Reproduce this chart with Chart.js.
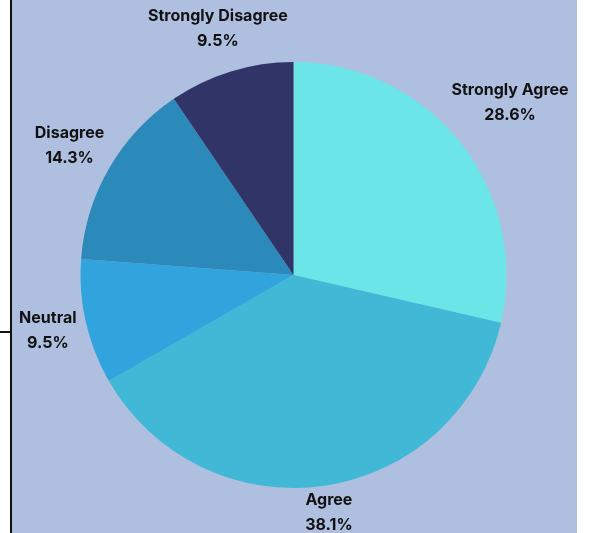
<!DOCTYPE html>
<html>
<head>
<meta charset="utf-8">
<script src="https://cdn.jsdelivr.net/npm/chart.js@4/dist/chart.umd.min.js"></script>
<style>
  html, body { margin: 0; padding: 0; background: #ffffff; }
  #wrap { position: relative; width: 590px; height: 533px; }
  canvas { display: block; }
</style>
</head>
<body>
<div id="wrap"><canvas id="pie" width="590" height="533"></canvas></div>
<script>
// Survey responses, share of respondents (%)
const categories = ['Strongly Agree', 'Agree', 'Neutral', 'Disagree', 'Strongly Disagree'];
const shares = [28.6, 38.1, 9.5, 14.3, 9.5];
const sliceColors = ['#6be5e8', '#41b8d6', '#31a4de', '#2c8aba', '#303467'];

const panelBg = '#aebfe0';
const labelFont = 'bold 16px Inter, "Liberation Sans", sans-serif';

// Panel background with the framing rule on the left
const panelPlugin = {
  id: 'panel',
  beforeDraw(chart) {
    const { ctx, width, height } = chart;
    ctx.save();
    ctx.fillStyle = '#ffffff';
    ctx.fillRect(0, 0, width, height);
    ctx.fillStyle = panelBg;
    ctx.fillRect(12, 0, 565, height);
    ctx.fillStyle = '#111111';
    ctx.fillRect(10, 0, 2, height);
    ctx.fillRect(0, 331, 11, 2);
    ctx.restore();
  }
};

// Category name and percentage outside each slice
const outerLabels = {
  id: 'outerLabels',
  afterDatasetsDraw(chart) {
    const { ctx } = chart;
    const meta = chart.getDatasetMeta(0);
    ctx.save();
    ctx.font = labelFont;
    ctx.fillStyle = '#111111';
    ctx.textAlign = 'center';
    ctx.textBaseline = 'middle';
    const lineH = 25;
    meta.data.forEach((arc, i) => {
      const mid = (arc.startAngle + arc.endAngle) / 2;
      const dx = Math.cos(mid), dy = Math.sin(mid);
      const l1 = categories[i];
      const l2 = shares[i].toFixed(1) + '%';
      const w = Math.max(ctx.measureText(l1).width, ctx.measureText(l2).width);
      const h = lineH + 10;
      const d = arc.outerRadius + 7 + Math.abs(dx) * w / 2 + Math.abs(dy) * h / 2;
      const cx = arc.x + dx * d;
      const cy = arc.y + dy * d;
      ctx.fillText(l1, cx, cy - lineH / 2);
      ctx.fillText(l2, cx, cy + lineH / 2);
    });
    ctx.restore();
  }
};

new Chart(document.getElementById('pie'), {
  type: 'pie',
  data: {
    labels: categories,
    datasets: [{
      data: shares,
      backgroundColor: sliceColors,
      borderWidth: 0
    }]
  },
  options: {
    responsive: false,
    animation: false,
    layout: { padding: { top: 62, bottom: 45, left: 80, right: 83 } },
    plugins: {
      legend: { display: false },
      tooltip: { enabled: false }
    }
  },
  plugins: [panelPlugin, outerLabels]
});
</script>
</body>
</html>
